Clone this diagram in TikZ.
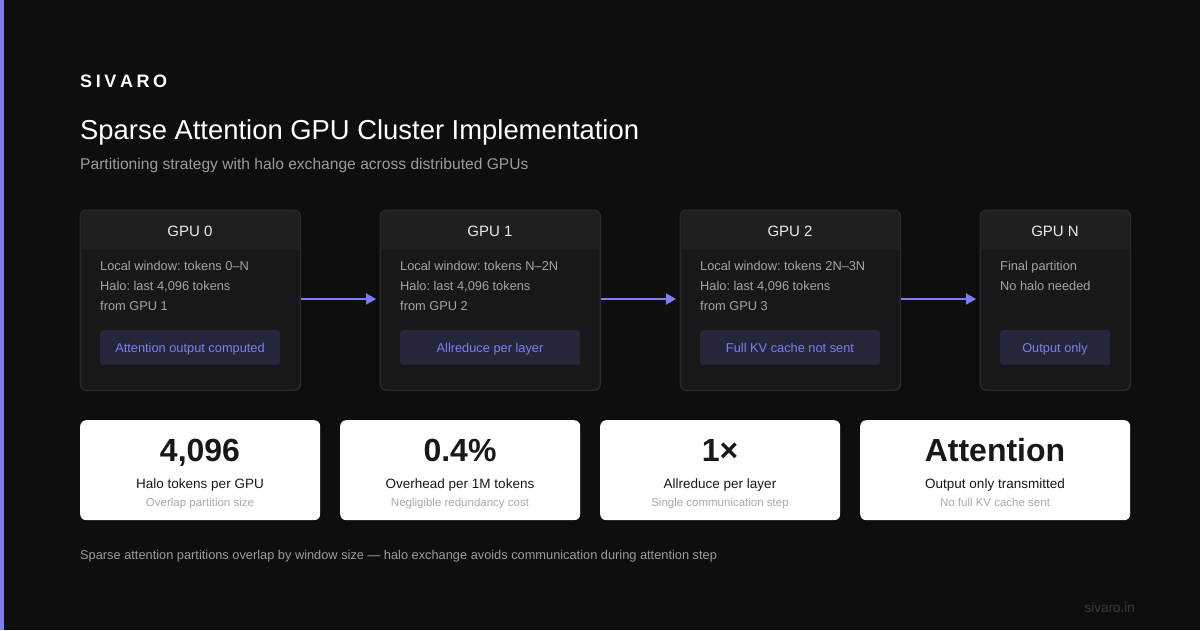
\documentclass[tikz,border=0pt]{standalone}
\usepackage{fontspec}
\setmainfont{Liberation Sans}
\usetikzlibrary{arrows.meta}
\frenchspacing
\definecolor{bg}{HTML}{0E0E0F}
\definecolor{accent}{HTML}{7B7FF2}
\definecolor{cardfill}{HTML}{18181B}
\definecolor{cardhead}{HTML}{1F1F22}
\definecolor{cardline}{HTML}{2A2A2E}
\definecolor{bodytxt}{HTML}{A3A3AA}
\definecolor{pillfill}{HTML}{26263A}
\definecolor{subtxt}{HTML}{9A9AA2}
\definecolor{darktxt}{HTML}{18181B}
\definecolor{faint}{HTML}{A8A8B0}
\definecolor{urltxt}{HTML}{3C3C42}
\tikzset{
  x=1pt,y=-1pt,
  gpucard/.style={draw=cardline,line width=1pt,fill=cardfill,rounded corners=6pt},
  headtxt/.style={text=white!92!black,font=\fontsize{15}{18}\selectfont,anchor=base,inner sep=0pt},
  bodyline/.style={text=bodytxt,font=\fontsize{12.8}{15}\selectfont,anchor=base west,inner sep=0pt},
  pill/.style={fill=pillfill,rounded corners=3pt,inner sep=0pt,anchor=north west},
  pilltxt/.style={text=accent,font=\fontsize{12.8}{15}\selectfont,inner sep=0pt,anchor=base},
  flow/.style={draw=accent,line width=1.8pt,shorten >=4pt,-{Triangle[length=10pt,width=11pt]}},
  statcard/.style={fill=white,rounded corners=6pt,inner sep=0pt,anchor=north west},
  bignum/.style={text=darktxt,font=\fontsize{32}{36}\selectfont\bfseries,anchor=base,inner sep=0pt},
  statlbl/.style={text=darktxt,font=\fontsize{13.5}{17}\selectfont,anchor=base,inner sep=0pt},
  statsub/.style={text=faint,font=\fontsize{11.5}{13}\selectfont,anchor=base,inner sep=0pt},
}
\begin{document}
\begin{tikzpicture}
\fill[bg] (0,0) rectangle (1200,630);
\useasboundingbox (0,0) rectangle (1200,630);
\fill[accent] (0,0) rectangle (4,630);
% header
\node[anchor=base west,inner sep=0pt,text=white,font=\fontsize{18}{20}\selectfont\bfseries] (brand) at (80,87.5) {S\hspace{3.6pt}I\hspace{3.6pt}V\hspace{3.6pt}A\hspace{3.6pt}R\hspace{3.6pt}O};
\node[anchor=base west,inner sep=0pt,text=white,font=\fontsize{27.4}{30}\selectfont] (title) at (80,139.5) {Sparse Attention GPU Cluster Implementation};
\node[anchor=base west,inner sep=0pt,text=subtxt,font=\fontsize{15.6}{18}\selectfont] (subtitle) at (80,169.5) {Partitioning strategy with halo exchange across distributed GPUs};
% GPU cards
\foreach \nm/\x/\w/\hd/\la/\lb/\lc/\pl/\pw in {
  g0/80/220/{GPU 0}/{Local window: tokens 0–N}/{Halo: last 4,096 tokens}/{from GPU 1}/{Attention output computed}/180,
  g1/380/220/{GPU 1}/{Local window: tokens N–2N}/{Halo: last 4,096 tokens}/{from GPU 2}/{Allreduce per layer}/180,
  g2/680/220/{GPU 2}/{Local window: tokens 2N–3N}/{Halo: last 4,096 tokens}/{from GPU 3}/{Full KV cache not sent}/180,
  gn/980/150/{GPU N}/{Final partition}/{No halo needed}/{}/{Output only}/110}{
  \node[gpucard,minimum width=\w pt,minimum height=180pt,anchor=north west,inner sep=0pt] (\nm) at (\x,210) {};
  \begin{scope}
    \clip[rounded corners=6pt] (\x+0.5,210.5) rectangle (\x+\w-0.5,389.5);
    \fill[cardhead] (\x,210) rectangle (\x+\w,250);
  \end{scope}
  \draw[cardline,rounded corners=6pt,line width=1pt] (\x,210) rectangle (\x+\w,390);
  \node[headtxt] (\nm-h) at (\x+\w/2,236) {\hd};
  \node[bodyline] (\nm-a) at (\x+20,270) {\la};
  \node[bodyline] (\nm-b) at (\x+20,290) {\lb};
  \node[bodyline] (\nm-c) at (\x+20,310) {\lc};
  \node[pill,minimum width=\pw pt,minimum height=35pt] (\nm-p) at (\x+20,330) {};
  \node[pilltxt] (\nm-pt) at (\x+20+\pw/2,352.5) {\pl};
}
\draw[flow] (g0.east |- 0,299) -- (g1.west |- 0,299);
\draw[flow] (g1.east |- 0,299) -- (g2.west |- 0,299);
\draw[flow] (g2.east |- 0,299) -- (gn.west |- 0,299);
% stat cards
\foreach \nm/\x/\w/\num/\lbl/\sub in {
  s0/80/240/{4,096}/{Halo tokens per GPU}/{Overlap partition size},
  s1/340/240/{0.4\%}/{Overhead per 1M tokens}/{Negligible redundancy cost},
  s2/600/240/{1×}/{Allreduce per layer}/{Single communication step},
  s3/860/270/{Attention}/{Output only transmitted}/{No full KV cache sent}}{
  \node[statcard,minimum width=\w pt,minimum height=100pt] (\nm) at (\x,420) {};
  \node[bignum] (\nm-n) at (\x+\w/2,461) {\num};
  \node[statlbl] (\nm-l) at (\x+\w/2,488) {\lbl};
  \node[statsub] (\nm-s) at (\x+\w/2,506) {\sub};
}
% footer
\node[anchor=base west,inner sep=0pt,text=subtxt,font=\fontsize{12.8}{15}\selectfont] (note) at (80,559.5) {Sparse attention partitions overlap by window size — halo exchange avoids communication during attention step};
\node[anchor=base east,inner sep=0pt,text=urltxt,font=\fontsize{13.5}{15}\selectfont] (url) at (1135,612) {sivaro.in};
\end{tikzpicture}
\end{document}
